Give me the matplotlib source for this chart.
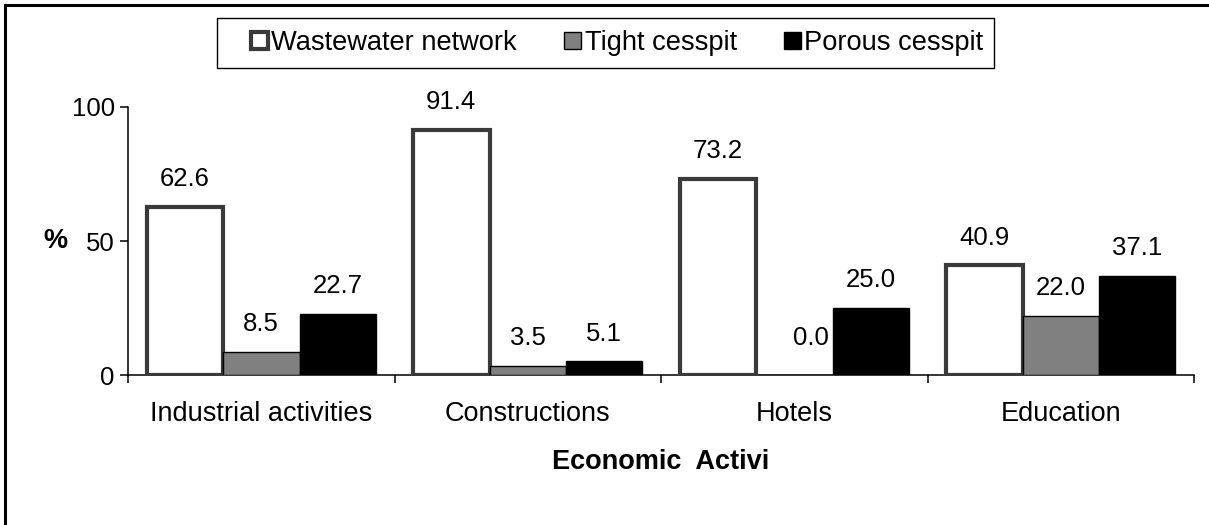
import numpy as np
import matplotlib
matplotlib.use("Agg")
import matplotlib.pyplot as plt
from matplotlib.lines import Line2D
from matplotlib.patches import Rectangle

plt.rcParams['font.family'] = ['Liberation Sans', 'DejaVu Sans']

# data
categories = ["Industrial activities", "Constructions", "Hotels", "Education"]
series_names = ["Wastewater network", "Tight cesspit", "Porous cesspit"]
wastewater = [62.6, 91.4, 73.2, 40.9]
tight = [8.5, 3.5, 0.0, 22.0]
porous = [22.7, 5.1, 25.0, 37.1]
y_ticks = [0, 50, 100]

fig = plt.figure(figsize=(12.09, 5.25), dpi=100)
ax = fig.add_axes([0.1059, 0.2857, 0.8817, 0.5105])

x = np.arange(len(categories))
w = 0.287
styles = [
    dict(color="white", edgecolor="#3a3a3a", linewidth=3.0),
    dict(color="#808080", edgecolor="black", linewidth=1.0),
    dict(color="black", edgecolor="black", linewidth=1.0),
]
for k, vals in enumerate([wastewater, tight, porous]):
    pos = x + (k - 1) * w
    ax.bar(pos, vals, w, label=series_names[k], zorder=3, **styles[k])
    for xp, v in zip(pos, vals):
        # excel nudges the zero label a bit up and right
        off = (12, 27) if v == 0 else (0, 20)
        ax.annotate(f"{v:.1f}", (xp, v), xytext=off, textcoords="offset points",
                    ha="center", va="center", fontsize=18.5)

ax.set_xlim(-0.5, len(categories) - 0.5)
ax.set_ylim(0, 100)
ax.set_yticks(y_ticks)
ax.tick_params(axis="y", labelsize=18.5, length=6, width=1.1, pad=3.5)

ax.set_xticks(np.arange(len(categories) + 1) - 0.5)
ax.set_xticklabels([])
ax.set_xticks(x, minor=True)
ax.set_xticklabels(categories, minor=True)
ax.tick_params(axis="x", which="major", length=6, width=1.1)
ax.tick_params(axis="x", which="minor", length=0, labelsize=19.5, pad=19)

for s in ["top", "right"]:
    ax.spines[s].set_visible(False)
for s in ["left", "bottom"]:
    ax.spines[s].set_linewidth(1.1)

ax.set_xlabel("Economic  Activi", fontsize=19.5, fontweight="bold", va="center")
ax.xaxis.set_label_coords(0.5, -0.325)
ax.set_ylabel("%", fontsize=19.5, fontweight="bold", rotation=0, va="center", ha="center")
ax.yaxis.set_label_coords(-0.0685, 0.5)

leg = ax.legend(loc="center left", bbox_to_anchor=(251 / 1209, 1 - 43 / 525),
                bbox_transform=fig.transFigure, ncol=3, fontsize=19.6, frameon=False,
                handlelength=0.62, handleheight=0.62, handletextpad=0.12,
                columnspacing=1.75, borderpad=0.0, borderaxespad=0.0)

# legend box drawn separately (excel pads it unevenly)
fig.add_artist(Rectangle((217 / 1209, 1 - 68 / 525), 777 / 1209, 50 / 525,
                         transform=fig.transFigure, fill=False, edgecolor="black", lw=1.0))

# outer frame (top and left edges only visible)
fx = 5 / 1209
fy = 1 - 5 / 525
fig.add_artist(Line2D([fx, 1], [fy, fy], transform=fig.transFigure, color="black", lw=2.2))
fig.add_artist(Line2D([fx, fx], [0, fy], transform=fig.transFigure, color="black", lw=2.2))

fig.savefig("out.png", dpi=100)
